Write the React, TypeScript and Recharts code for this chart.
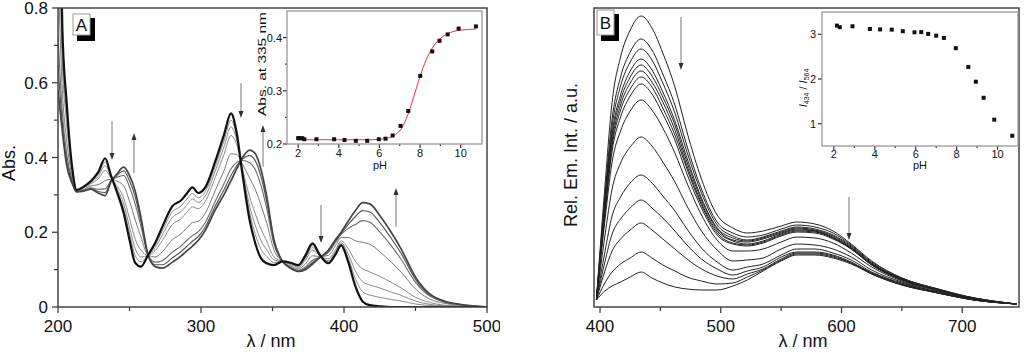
import React from "react";
import { LineChart, Line, XAxis, YAxis, ComposedChart, Scatter } from "recharts";

const FONT = "'Liberation Sans', Arial, Helvetica, sans-serif";
const INK = "#333";

/* ─── Panel A: absorption spectra during the pH titration ───────────────── */
const WL_A = [200, 203, 206, 210, 213, 218, 223, 228, 233, 237, 241, 246, 250, 254, 258, 263, 268, 273, 280, 286, 290, 294, 298, 303, 310, 316, 321, 325, 329, 334, 338, 342, 346, 351, 357, 363, 368, 373, 378, 383, 389, 394, 398, 403, 408, 413, 418, 425, 433, 440, 450, 460, 470, 480, 490, 500];

// pH 2 - 6 (acid form, several overlapping scans)
const ABS_PH2 = [1.40, 0.75, 0.55, 0.37, 0.313, 0.322, 0.337, 0.36, 0.398, 0.352, 0.31, 0.25, 0.18, 0.118, 0.108, 0.139, 0.172, 0.215, 0.27, 0.285, 0.303, 0.32, 0.305, 0.32, 0.39, 0.46, 0.518, 0.465, 0.355, 0.233, 0.17, 0.13, 0.117, 0.112, 0.122, 0.118, 0.112, 0.138, 0.17, 0.14, 0.117, 0.14, 0.165, 0.12, 0.055, 0.015, 0.005, 0.002, 0, 0, 0, 0, 0, 0, 0, 0];
const ABS_PH70 = [1.318, 0.722, 0.533, 0.366, 0.313, 0.321, 0.335, 0.355, 0.388, 0.35, 0.315, 0.262, 0.197, 0.137, 0.121, 0.139, 0.166, 0.204, 0.255, 0.27, 0.288, 0.304, 0.292, 0.309, 0.377, 0.444, 0.5, 0.456, 0.36, 0.252, 0.194, 0.154, 0.135, 0.119, 0.122, 0.117, 0.11, 0.134, 0.165, 0.139, 0.121, 0.144, 0.169, 0.131, 0.075, 0.041, 0.032, 0.026, 0.02, 0.016, 0.008, 0.004, 0.002, 0.001, 0, 0];
const ABS_PH74 = [1.236, 0.694, 0.516, 0.362, 0.312, 0.32, 0.333, 0.349, 0.378, 0.349, 0.319, 0.275, 0.214, 0.156, 0.134, 0.139, 0.159, 0.193, 0.24, 0.255, 0.272, 0.289, 0.28, 0.297, 0.364, 0.428, 0.482, 0.446, 0.364, 0.27, 0.218, 0.177, 0.153, 0.126, 0.122, 0.115, 0.109, 0.13, 0.159, 0.138, 0.124, 0.148, 0.172, 0.142, 0.096, 0.068, 0.059, 0.051, 0.04, 0.031, 0.016, 0.007, 0.003, 0.002, 0.001, 0];
const ABS_PH77 = [1.129, 0.658, 0.494, 0.357, 0.311, 0.318, 0.33, 0.342, 0.365, 0.346, 0.325, 0.291, 0.237, 0.181, 0.152, 0.139, 0.151, 0.178, 0.221, 0.236, 0.253, 0.268, 0.263, 0.282, 0.347, 0.407, 0.459, 0.434, 0.37, 0.295, 0.249, 0.208, 0.176, 0.134, 0.122, 0.113, 0.106, 0.125, 0.152, 0.137, 0.129, 0.153, 0.177, 0.156, 0.122, 0.102, 0.094, 0.082, 0.066, 0.051, 0.026, 0.012, 0.005, 0.003, 0.001, 0];
const ABS_PH80 = [0.908, 0.582, 0.448, 0.346, 0.31, 0.315, 0.324, 0.327, 0.338, 0.342, 0.337, 0.324, 0.283, 0.233, 0.187, 0.139, 0.134, 0.148, 0.18, 0.196, 0.211, 0.226, 0.229, 0.251, 0.312, 0.364, 0.41, 0.408, 0.382, 0.345, 0.314, 0.272, 0.224, 0.153, 0.122, 0.109, 0.102, 0.115, 0.137, 0.135, 0.138, 0.164, 0.186, 0.186, 0.177, 0.173, 0.168, 0.148, 0.12, 0.093, 0.048, 0.021, 0.01, 0.005, 0.002, 0];
const ABS_PH86 = [0.728, 0.52, 0.411, 0.337, 0.309, 0.312, 0.319, 0.315, 0.316, 0.338, 0.347, 0.352, 0.321, 0.275, 0.216, 0.139, 0.12, 0.124, 0.147, 0.163, 0.178, 0.191, 0.201, 0.226, 0.283, 0.329, 0.37, 0.387, 0.392, 0.386, 0.367, 0.324, 0.263, 0.168, 0.122, 0.106, 0.098, 0.107, 0.125, 0.133, 0.146, 0.173, 0.194, 0.21, 0.221, 0.231, 0.227, 0.201, 0.164, 0.127, 0.066, 0.029, 0.013, 0.007, 0.002, 0];
const ABS_PH93 = [0.646, 0.492, 0.394, 0.333, 0.308, 0.311, 0.317, 0.309, 0.306, 0.336, 0.351, 0.364, 0.338, 0.295, 0.229, 0.139, 0.113, 0.113, 0.132, 0.148, 0.162, 0.176, 0.188, 0.214, 0.27, 0.313, 0.352, 0.378, 0.396, 0.405, 0.391, 0.348, 0.281, 0.175, 0.122, 0.104, 0.096, 0.103, 0.119, 0.133, 0.149, 0.177, 0.197, 0.221, 0.242, 0.258, 0.254, 0.226, 0.184, 0.143, 0.074, 0.032, 0.015, 0.007, 0.003, 0];
// pH 9.9 - 10.7 (base form)
const ABS_PH107 = [0.58, 0.47, 0.38, 0.33, 0.308, 0.31, 0.315, 0.305, 0.298, 0.335, 0.355, 0.374, 0.352, 0.31, 0.24, 0.139, 0.108, 0.104, 0.12, 0.136, 0.15, 0.163, 0.178, 0.205, 0.26, 0.30, 0.338, 0.37, 0.40, 0.42, 0.41, 0.367, 0.295, 0.18, 0.122, 0.103, 0.095, 0.10, 0.115, 0.132, 0.152, 0.18, 0.20, 0.23, 0.258, 0.279, 0.276, 0.245, 0.20, 0.155, 0.08, 0.035, 0.016, 0.008, 0.003, 0];

const A_TICKS_X = [200, 250, 300, 350, 400, 450, 500];
const A_MAJOR_X = [200, 300, 400, 500];
const A_TICKS_Y = [0, 0.1, 0.2, 0.3, 0.4, 0.5, 0.6, 0.7, 0.8];
const A_MAJOR_Y = [0, 0.2, 0.4, 0.6, 0.8];

/* inset A: absorbance at 335 nm vs pH */
const PH_A = [2.0, 2.08, 2.2, 2.3, 2.9, 3.77, 4.28, 4.84, 5.4, 5.97, 6.3, 6.65, 7.04, 7.42, 8.01, 8.6, 8.96, 9.36, 9.9, 10.75];
const ABS335 = [0.211, 0.211, 0.211, 0.209, 0.209, 0.209, 0.2075, 0.206, 0.206, 0.209, 0.21, 0.216, 0.234, 0.262, 0.328, 0.374, 0.394, 0.406, 0.417, 0.421];
const FIT_PH = [1.95, 3, 4, 5, 5.5, 6, 6.4, 6.8, 7.1, 7.4, 7.7, 8.0, 8.3, 8.6, 8.9, 9.2, 9.6, 10.0, 10.75];
const FIT_ABS = [0.208, 0.208, 0.208, 0.208, 0.208, 0.209, 0.211, 0.218, 0.23, 0.255, 0.29, 0.327, 0.358, 0.38, 0.395, 0.404, 0.411, 0.414, 0.416];

/* ─── Panel B: emission spectra ─────────────────────────────────────────── */
const WL_B = [397, 404, 410, 417, 425, 434, 443, 452, 462, 472, 484, 497, 510, 522, 535, 550, 563, 578, 593, 608, 625, 650, 680, 710, 745];
const EM_01 = [7, 120, 205, 250, 277, 291, 279, 254, 220, 175, 128, 92, 79, 74, 76, 81, 85, 83, 76, 63, 46, 29, 18, 9, 3];
const EM_02 = [7, 111, 188, 230, 255, 268, 257, 233, 202, 161, 118, 85, 74, 70, 72, 78, 82, 80, 74, 62, 45, 29, 18, 9, 3];
const EM_03 = [7, 107, 181, 221, 245, 258, 247, 224, 194, 155, 114, 82, 71, 67, 70, 76, 80, 78, 72, 61, 44, 28, 17, 9, 3];
const EM_04 = [7, 103, 174, 212, 236, 248, 237, 215, 186, 149, 109, 79, 69, 66, 69, 75, 79, 77, 71, 60, 43, 28, 17, 9, 3];
const EM_05 = [7, 100, 170, 207, 230, 242, 231, 210, 182, 145, 107, 78, 67, 65, 68, 74, 78, 76, 70, 59, 43, 28, 17, 8, 3];
const EM_06 = [7, 98, 165, 202, 224, 236, 225, 205, 177, 141, 104, 76, 66, 63, 66, 73, 77, 76, 69, 59, 43, 28, 17, 8, 3];
const EM_07 = [7, 95, 161, 197, 218, 230, 220, 199, 172, 138, 102, 74, 64, 62, 65, 72, 76, 75, 69, 58, 42, 27, 17, 8, 3];
const EM_08 = [7, 92, 156, 190, 211, 223, 213, 193, 167, 133, 99, 72, 63, 61, 64, 71, 75, 74, 68, 58, 42, 27, 17, 8, 3];
const EM_09 = [7, 86, 145, 176, 196, 207, 197, 179, 154, 124, 92, 67, 56, 56, 58, 65, 70, 69, 64, 54, 40, 26, 16, 8, 3];
const EM_10 = [7, 71, 118, 144, 160, 170, 161, 145, 125, 101, 76, 57, 46, 47, 49, 58, 63, 62, 58, 50, 37, 25, 15, 8, 3];
const EM_11 = [7, 55, 91, 110, 124, 132, 124, 111, 96, 78, 59, 45, 37, 40, 43, 52, 58, 58, 54, 47, 35, 24, 15, 7, 3];
const EM_12 = [7, 45, 73, 88, 99, 107, 99, 89, 76, 62, 48, 38, 32, 36, 40, 50, 55, 55, 52, 45, 34, 23, 14, 7, 3];
const EM_13 = [7, 36, 56, 68, 77, 84, 77, 68, 58, 48, 38, 31, 28, 33, 38, 48, 54, 54, 51, 44, 34, 23, 14, 7, 3];
const EM_14 = [7, 24, 35, 43, 49, 55, 49, 42, 36, 30, 26, 23, 24, 30, 37, 47, 53, 53, 50, 44, 33, 22, 14, 7, 3];
const EM_15 = [7, 16, 21, 25, 30, 35, 29, 24, 20, 18, 17, 17, 21, 27, 36, 46, 52, 52, 49, 43, 33, 22, 14, 7, 3];

const B_TICKS_X = [400, 450, 500, 550, 600, 650, 700];
const B_MAJOR_X = [400, 500, 600, 700];

/* inset B: I434 / I564 vs pH */
const PH_B = [2.15, 2.29, 2.91, 3.76, 4.26, 4.83, 5.37, 5.94, 6.27, 6.61, 7.0, 7.38, 7.96, 8.57, 8.94, 9.32, 9.84, 10.72];
const RATIO = [3.195, 3.16, 3.18, 3.12, 3.11, 3.105, 3.07, 3.045, 3.05, 3.01, 2.97, 2.92, 2.69, 2.27, 1.94, 1.58, 1.09, 0.73];

const INSET_TICKS_X = [2, 3, 4, 5, 6, 7, 8, 9, 10];
const INSET_MAJOR_X = [2, 4, 6, 8, 10];

/* ─── series styling ────────────────────────────────────────────────────── */
const A_SERIES = [
  { key: "p70", values: ABS_PH70, color: "#8a8a8a", width: 1 },
  { key: "p74", values: ABS_PH74, color: "#8a8a8a", width: 1 },
  { key: "p77", values: ABS_PH77, color: "#8a8a8a", width: 1 },
  { key: "p80", values: ABS_PH80, color: "#7a7a7a", width: 1 },
  { key: "p86", values: ABS_PH86, color: "#6a6a6a", width: 1.1 },
  { key: "p93", values: ABS_PH93, color: "#5a5a5a", width: 1.2 },
  { key: "p107", values: ABS_PH107, color: "#444", width: 1.7 },
  { key: "p2", values: ABS_PH2, color: "#111", width: 2.2 },
];

const B_SERIES = [EM_15, EM_14, EM_13, EM_12, EM_11, EM_10, EM_09, EM_08, EM_07, EM_06, EM_05, EM_04, EM_03, EM_02, EM_01];

const rowsA = WL_A.map((wl, i) => {
  const r: Record<string, number> = { wl };
  A_SERIES.forEach((s) => { r[s.key] = s.values[i]; });
  return r;
});

const rowsB = WL_B.map((wl, i) => {
  const r: Record<string, number> = { wl };
  B_SERIES.forEach((s, k) => { r["e" + k] = s[i]; });
  return r;
});

const insetAPoints = PH_A.map((x, i) => ({ x, y: ABS335[i] }));
const insetAFit = FIT_PH.map((x, i) => ({ x, y: FIT_ABS[i] }));
const insetBPoints = PH_B.map((x, i) => ({ x, y: RATIO[i] }));

/* ─── tick helpers (major ticks labelled, minor ticks short) ───────────── */
const isIn = (list: number[], v: number) => list.some((m) => Math.abs(m - v) < 1e-6);

function xTick(majors: number[], len: number, minor: number, fs: number, dy: number) {
  return (p: any) => {
    const v = p.payload.value;
    const major = isIn(majors, v);
    return (
      <g>
        <line x1={p.x} x2={p.x} y1={p.y} y2={p.y + (major ? len : minor)} stroke={INK} strokeWidth={1.2} />
        {major && (
          <text x={p.x} y={p.y + dy} textAnchor="middle" fontSize={fs} fontFamily={FONT} fill="#111">
            {v}
          </text>
        )}
      </g>
    );
  };
}

function yTick(majors: number[], len: number, minor: number, fs: number, gap: number) {
  return (p: any) => {
    const v = p.payload.value;
    const major = isIn(majors, v);
    return (
      <g>
        <line x1={p.x} x2={p.x - (major ? len : minor)} y1={p.y} y2={p.y} stroke={INK} strokeWidth={1.2} />
        {major && (
          <text x={p.x - gap} y={p.y + fs * 0.36} textAnchor="end" fontSize={fs} fontFamily={FONT} fill="#111">
            {v}
          </text>
        )}
      </g>
    );
  };
}

const squareDot = (p: any) => (
  <rect x={p.cx - 2} y={p.cy - 2} width={4} height={4} fill="#111" />
);

function Arrow({ x, from, to }: { x: number; from: number; to: number }) {
  const dir = to > from ? 1 : -1;
  const base = to - dir * 7;
  return (
    <g>
      <line x1={x} x2={x} y1={from} y2={base} stroke="#777" strokeWidth={1} />
      <path d={`M${x - 2.5},${base} L${x + 2.5},${base} L${x},${to} Z`} fill="#333" />
    </g>
  );
}

function PanelTag({ x, y, w, h, label }: { x: number; y: number; w: number; h: number; label: string }) {
  return (
    <g>
      <rect x={x + 4} y={y + 4} width={w + 1} height={h + 2} fill="#000" />
      <rect x={x} y={y} width={w} height={h} fill="#fff" stroke="#999" strokeWidth={1} />
      <text x={x + w / 2} y={y + h / 2 + 6} textAnchor="middle" fontSize={17} fontFamily={FONT} fill="#111">
        {label}
      </text>
    </g>
  );
}

export default function App() {
  return (
    <div style={{ position: "absolute", left: 0, top: 0, width: 1024, height: 353, background: "#fff", overflow: "hidden" }}>
      {/* Panel A */}
      <div style={{ position: "absolute", left: 0, top: 0 }}>
        <LineChart width={500} height={353} data={rowsA} margin={{ top: 8, right: 13, bottom: 0, left: 0 }}>
          <XAxis
            dataKey="wl" type="number" domain={[200, 500]} ticks={A_TICKS_X} interval={0}
            allowDataOverflow height={46} axisLine={false} tickLine={false} tickSize={0} tickMargin={0}
            tick={xTick(A_MAJOR_X, 6, 4, 17, 25)}
          />
          <YAxis
            type="number" domain={[0, 0.8]} ticks={A_TICKS_Y} interval={0} allowDataOverflow
            width={58} axisLine={false} tickLine={false} tickSize={0} tickMargin={0}
            tick={yTick(A_MAJOR_Y, 6, 4, 17, 10)}
          />
          {A_SERIES.map((s) => (
            <Line key={s.key} dataKey={s.key} type="monotone" stroke={s.color} strokeWidth={s.width}
              dot={false} activeDot={false} isAnimationActive={false} />
          ))}
        </LineChart>
      </div>

      {/* Inset A */}
      <div style={{ position: "absolute", left: 250, top: 0 }}>
        <ComposedChart width={240} height={175} margin={{ top: 11, right: 8, bottom: 0, left: 0 }}>
          <XAxis
            dataKey="x" type="number" domain={[1.45, 11.05]} ticks={INSET_TICKS_X} interval={0}
            allowDataOverflow height={31} axisLine={false} tickLine={false} tickSize={0} tickMargin={0}
            tick={xTick(INSET_MAJOR_X, 4, 2, 11, 13)}
          />
          <YAxis
            dataKey="y" type="number" domain={[0.2, 0.45]} ticks={[0.2, 0.25, 0.3, 0.35, 0.4]} interval={0}
            allowDataOverflow width={37} axisLine={false} tickLine={false} tickSize={0} tickMargin={0}
            tick={yTick([0.2, 0.3, 0.4], 4, 2, 11, 5)}
          />
          <Line data={insetAFit} dataKey="y" type="monotone" stroke="#f0303a" strokeWidth={1}
            dot={false} activeDot={false} isAnimationActive={false} />
          <Scatter data={insetAPoints} shape={squareDot} isAnimationActive={false} />
        </ComposedChart>
      </div>

      {/* Panel B */}
      <div style={{ position: "absolute", left: 520, top: 0 }}>
        <LineChart width={504} height={353} data={rowsB} margin={{ top: 8, right: 5, bottom: 0, left: 74 }}>
          <XAxis
            dataKey="wl" type="number" domain={[395, 747]} ticks={B_TICKS_X} interval={0}
            allowDataOverflow height={46} axisLine={false} tickLine={false} tickSize={0} tickMargin={0}
            tick={xTick(B_MAJOR_X, 6, 4, 17, 25)}
          />
          <YAxis hide type="number" domain={[0, 299]} allowDataOverflow />
          {B_SERIES.map((_, k) => (
            <Line key={k} dataKey={"e" + k} type="monotone" stroke="#222" strokeWidth={1}
              dot={false} activeDot={false} isAnimationActive={false} />
          ))}
        </LineChart>
      </div>

      {/* Inset B */}
      <div style={{ position: "absolute", left: 780, top: 0 }}>
        <ComposedChart width={244} height={175} margin={{ top: 12, right: 6, bottom: 0, left: 0 }}>
          <XAxis
            dataKey="x" type="number" domain={[1.42, 11.0]} ticks={INSET_TICKS_X} interval={0}
            allowDataOverflow height={29} axisLine={false} tickLine={false} tickSize={0} tickMargin={0}
            tick={xTick(INSET_MAJOR_X, 4, 2, 11, 12)}
          />
          <YAxis
            dataKey="y" type="number" domain={[0.5, 3.5]} ticks={[1, 2, 3]} interval={0}
            allowDataOverflow width={42} axisLine={false} tickLine={false} tickSize={0} tickMargin={0}
            tick={yTick([1, 2, 3], 4, 2, 11, 6)}
          />
          <Scatter data={insetBPoints} shape={squareDot} isAnimationActive={false} />
        </ComposedChart>
      </div>

      {/* frames, titles, arrows */}
      <svg width={1024} height={353} style={{ position: "absolute", left: 0, top: 0, pointerEvents: "none" }}>
        <rect x={58} y={8} width={429} height={299} fill="none" stroke="#444" strokeWidth={1.5} />
        <rect x={594} y={8} width={425} height={299} fill="none" stroke="#444" strokeWidth={1.5} />
        <rect x={287} y={11} width={195} height={133} fill="none" stroke="#999" strokeWidth={1.3} />
        <rect x={822} y={12} width={196} height={134} fill="none" stroke="#999" strokeWidth={1.3} />

        <PanelTag x={73} y={14} w={17} h={21} label="A" />
        <PanelTag x={597} y={10} w={17} h={25} label="B" />

        <Arrow x={112} from={121} to={160} />
        <Arrow x={134} from={173} to={133} />
        <Arrow x={241} from={83} to={118} />
        <Arrow x={263} from={167} to={125} />
        <Arrow x={321} from={205} to={243} />
        <Arrow x={396} from={227} to={188} />
        <Arrow x={681} from={17} to={70} />
        <Arrow x={849} from={197} to={240} />

        <g fontFamily={FONT} fill="#111">
          <text transform="translate(15,163) rotate(-90)" textAnchor="middle" fontSize={18}>Abs.</text>
          <text x={271} y={347} textAnchor="middle" fontSize={18}>λ / nm</text>
          <text transform="translate(577,155) rotate(-90)" textAnchor="middle" fontSize={18}>Rel. Em. Int. / a.u.</text>
          <text x={803} y={347} textAnchor="middle" fontSize={18}>λ / nm</text>

          <text transform="translate(266,64) rotate(-90)" textAnchor="middle" fontSize={11}
            textLength={104} lengthAdjust="spacingAndGlyphs">Abs. at 335 nm</text>
          <text x={380} y={169} textAnchor="middle" fontSize={11}>pH</text>
          <text x={920} y={169} textAnchor="middle" fontSize={11}>pH</text>
          <text transform="translate(807,88) rotate(-90)" textAnchor="middle" fontSize={11}>
            <tspan fontStyle="italic">I</tspan>
            <tspan fontSize={7} dy={2}>434</tspan>
            <tspan dy={-2}> / </tspan>
            <tspan fontStyle="italic">I</tspan>
            <tspan fontSize={7} dy={2}>564</tspan>
          </text>
        </g>
      </svg>
    </div>
  );
}
